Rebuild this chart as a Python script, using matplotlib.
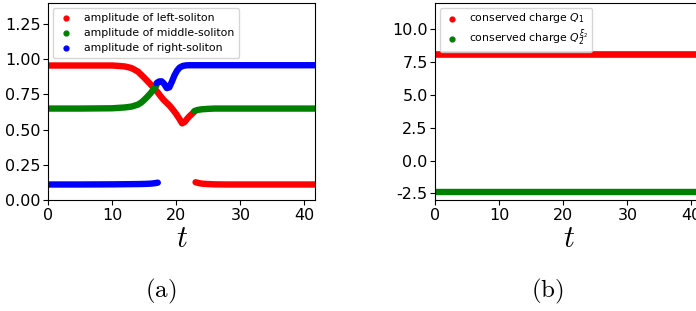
import matplotlib
matplotlib.use("Agg")
import matplotlib.pyplot as plt
import numpy as np

plt.rcParams['mathtext.fontset'] = 'dejavusans'

# --- data ---
# left soliton (red): before collision, then after collision two branches
t_left_a = [0, 5, 10, 11, 12, 13, 14, 15, 16, 16.5, 17, 17.5, 18, 18.5, 19, 19.5, 20, 20.5, 20.9, 21.3, 21.7, 22.1, 22.5, 22.8]
amp_left_a = [0.955, 0.955, 0.955, 0.952, 0.948, 0.937, 0.912, 0.868, 0.82, 0.795, 0.77, 0.74, 0.712, 0.69, 0.668, 0.64, 0.61, 0.575, 0.545, 0.555, 0.578, 0.598, 0.615, 0.628]
t_left_b = [23.0, 23.5, 24, 25, 26, 28, 30, 35, 41.7]
amp_left_b = [0.128, 0.122, 0.118, 0.115, 0.113, 0.112, 0.112, 0.112, 0.112]

# middle soliton (green)
t_mid_a = [0, 5, 10, 11, 12, 13, 14, 14.5, 15, 15.5, 16, 16.5, 16.9]
amp_mid_a = [0.65, 0.65, 0.652, 0.655, 0.658, 0.664, 0.678, 0.692, 0.712, 0.735, 0.76, 0.79, 0.815]
t_mid_b = [22.8, 23.3, 24, 25, 26, 30, 35, 41.7]
amp_mid_b = [0.632, 0.64, 0.645, 0.648, 0.65, 0.65, 0.65, 0.65]

# right soliton (blue)
t_right_a = [0, 5, 10, 12, 14, 15, 16, 16.6, 17.1]
amp_right_a = [0.112, 0.112, 0.113, 0.114, 0.115, 0.116, 0.118, 0.121, 0.125]
t_right_b = [16.9, 17.3, 17.7, 18.1, 18.5, 18.9, 19.3, 19.7, 20.1, 20.5, 21, 21.5, 22, 23, 25, 30, 41.7]
amp_right_b = [0.83, 0.842, 0.843, 0.825, 0.795, 0.8, 0.84, 0.885, 0.918, 0.94, 0.952, 0.956, 0.957, 0.957, 0.957, 0.957, 0.957]

# conserved charges
t_charge = [0, 10, 20, 30, 41.7]
Q1 = [8.15, 8.15, 8.15, 8.15, 8.15]
Q2 = [-2.4, -2.4, -2.4, -2.4, -2.4]

W, H = 6.96, 3.11
fig = plt.figure(figsize=(W, H), dpi=100)
ax1 = fig.add_axes([48.3/696, (311-200.3)/311, 267/696, (200.3-2.7)/311])
ax2 = fig.add_axes([435.3/696, (311-200.3)/311, 267/696, (200.3-2.7)/311])

lw = 4.6
kw = dict(lw=lw, solid_capstyle='round', solid_joinstyle='round')
ax1.plot(t_left_a, amp_left_a, color='red', **kw)
ax1.plot(t_left_b, amp_left_b, color='red', **kw)
ax1.plot(t_mid_a, amp_mid_a, color='green', **kw)
ax1.plot(t_mid_b, amp_mid_b, color='green', **kw)
ax1.plot(t_right_a, amp_right_a, color='blue', **kw)
ax1.plot(t_right_b, amp_right_b, color='blue', **kw)

# legend handles
ax1.scatter([], [], color='red', s=12, label='amplitude of left-soliton')
ax1.scatter([], [], color='green', s=12, label='amplitude of middle-soliton')
ax1.scatter([], [], color='blue', s=12, label='amplitude of right-soliton')
ax1.legend(loc='upper left', fontsize=7.8, handlelength=1.4, handletextpad=0.9,
           borderpad=0.5, labelspacing=0.45, borderaxespad=0.45)

ax1.set_xlim(0, 41.7)
ax1.set_ylim(0, 1.4)
ax1.set_xticks([0, 10, 20, 30, 40])
ax1.set_yticks([0, 0.25, 0.5, 0.75, 1.0, 1.25])
ax1.yaxis.set_major_formatter(matplotlib.ticker.FormatStrFormatter('%.2f'))

ax2.plot(t_charge, Q1, color='red', lw=4.8, solid_capstyle='butt')
ax2.plot(t_charge, Q2, color='green', lw=4.6, solid_capstyle='butt')
ax2.scatter([], [], color='red', s=12, label=r'conserved charge $Q_1$')
ax2.scatter([], [], color='green', s=12, label=r'conserved charge $Q_2^{\xi_2}$')
ax2.legend(loc='upper left', fontsize=7.8, handlelength=1.4, handletextpad=0.9,
           borderpad=0.35, labelspacing=0.2, borderaxespad=0.45)
ax2.set_xlim(0, 41.7)
ax2.set_ylim(-3.03, 12.03)
ax2.set_xticks([0, 10, 20, 30, 40])
ax2.set_yticks([-2.5, 0, 2.5, 5, 7.5, 10])
ax2.yaxis.set_major_formatter(matplotlib.ticker.FormatStrFormatter('%.1f'))

for ax in (ax1, ax2):
    ax.tick_params(labelsize=11.5, length=3.5, pad=2)
    ax.set_xlabel(r'$t$', fontsize=22, labelpad=1)
    ax.xaxis.label.set_math_fontfamily('cm')

fig.text(161/696, 1-291/311, r'$\mathrm{(a)}$', fontsize=18, ha='center', va='center', math_fontfamily='cm')
fig.text(547/696, 1-291/311, r'$\mathrm{(b)}$', fontsize=18, ha='center', va='center', math_fontfamily='cm')

fig.savefig('out.png', dpi=100)
